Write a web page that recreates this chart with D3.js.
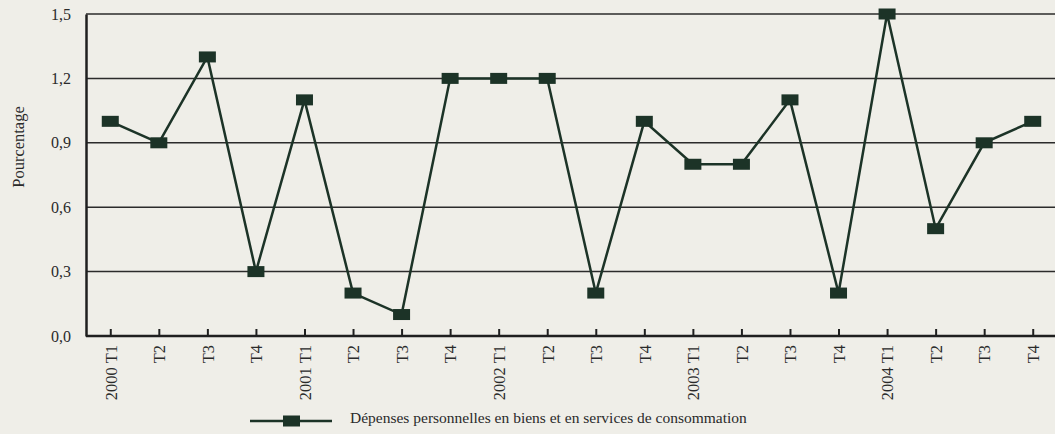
<!DOCTYPE html>
<html>
<head>
<meta charset="utf-8">
<script src="https://cdn.jsdelivr.net/npm/d3@7"></script>
<style>
  body { margin: 0; background: #efeee8; }
  svg { display: block; }
  text { font-family: "Liberation Serif", "DejaVu Serif", serif; fill: #2a2a2a; }
</style>
</head>
<body>
<svg id="chart" width="1055" height="434"></svg>
<script>
// quarters along the x axis
const quarters = ['2000 T1', 'T2', 'T3', 'T4', '2001 T1', 'T2 ', 'T3 ', 'T4 ', '2002 T1', 'T2  ', 'T3  ', 'T4  ',
  '2003 T1', 'T2   ', 'T3   ', 'T4   ', '2004 T1', 'T2    ', 'T3    ', 'T4    '];
// percentage change
const values = [1.0, 0.9, 1.3, 0.3, 1.1, 0.2, 0.1, 1.2, 1.2, 1.2, 0.2, 1.0, 0.8, 0.8, 1.1, 0.2, 1.5, 0.5, 0.9, 1.0];
const yTicks = [0, 0.3, 0.6, 0.9, 1.2, 1.5];
const seriesName = 'Dépenses personnelles en biens et en services de consommation';

const color = '#1c3327';
const svg = d3.select('#chart');
const margin = { top: 14, left: 86, bottom: 336, right: 1055 };

const x = d3.scalePoint().domain(quarters).range([margin.left, 1057]).padding(0.5);
const y = d3.scaleLinear().domain([0, 1.5]).range([margin.bottom, margin.top]);

// horizontal grid lines
svg.append('g')
  .selectAll('line')
  .data(yTicks.slice(1))
  .enter()
  .append('line')
  .attr('x1', margin.left)
  .attr('x2', margin.right)
  .attr('y1', d => y(d))
  .attr('y2', d => y(d))
  .attr('stroke', '#2b2b2b')
  .attr('stroke-width', 1.5);

// y axis
const yAxis = svg.append('g')
  .attr('transform', `translate(${margin.left},0)`)
  .call(d3.axisLeft(y).tickValues(yTicks).tickSize(0).tickPadding(15)
    .tickFormat(d => d3.format('.1f')(d).replace('.', ',')));
yAxis.select('.domain').attr('stroke', '#1f1f1f').attr('stroke-width', 2.5);
yAxis.selectAll('text').style('font-size', '16px').style('font-family', '"Liberation Serif", serif');

// x axis, ticks point up into the plot
const xAxis = svg.append('g')
  .attr('transform', `translate(0,${margin.bottom})`)
  .call(d3.axisBottom(x).tickSizeInner(-7).tickSizeOuter(0).tickPadding(10));
xAxis.select('.domain').attr('d', `M${margin.left},0H${margin.right}`).attr('stroke', '#1f1f1f').attr('stroke-width', 2.5);
xAxis.selectAll('.tick line').attr('stroke', '#1f1f1f').attr('stroke-width', 2);
xAxis.selectAll('text')
  .text(d => d.trim())
  .attr('transform', 'rotate(-90)')
  .attr('x', -9)
  .attr('y', 0)
  .attr('dy', '0.35em')
  .style('text-anchor', 'end')
  .style('font-size', '16.5px')
  .style('font-family', '"Liberation Serif", serif');

// y label
svg.append('text')
  .attr('transform', 'translate(18,147) rotate(-90)')
  .attr('text-anchor', 'middle')
  .attr('dy', '0.35em')
  .style('font-size', '16.5px')
  .text('Pourcentage');

// series line
const line = d3.line().x((d, i) => x(quarters[i])).y(d => y(d));
svg.append('path')
  .datum(values)
  .attr('d', line)
  .attr('fill', 'none')
  .attr('stroke', color)
  .attr('stroke-width', 2.5);

// markers
svg.append('g')
  .selectAll('rect')
  .data(values)
  .enter()
  .append('rect')
  .attr('x', (d, i) => x(quarters[i]) - 8.5)
  .attr('y', d => y(d) - 5.5)
  .attr('width', 17)
  .attr('height', 11)
  .attr('fill', color);

// legend
const legend = svg.append('g').attr('transform', 'translate(250,421)');
legend.append('line')
  .attr('x1', 0).attr('x2', 82)
  .attr('y1', 0).attr('y2', 0)
  .attr('stroke', color).attr('stroke-width', 2.5);
legend.append('rect')
  .attr('x', 33).attr('y', -5.5)
  .attr('width', 17).attr('height', 11)
  .attr('fill', color);
legend.append('text')
  .attr('x', 100)
  .attr('y', 0)
  .attr('dy', '0.1em')
  .style('font-size', '15.5px')
  .text(seriesName);
</script>
</body>
</html>
